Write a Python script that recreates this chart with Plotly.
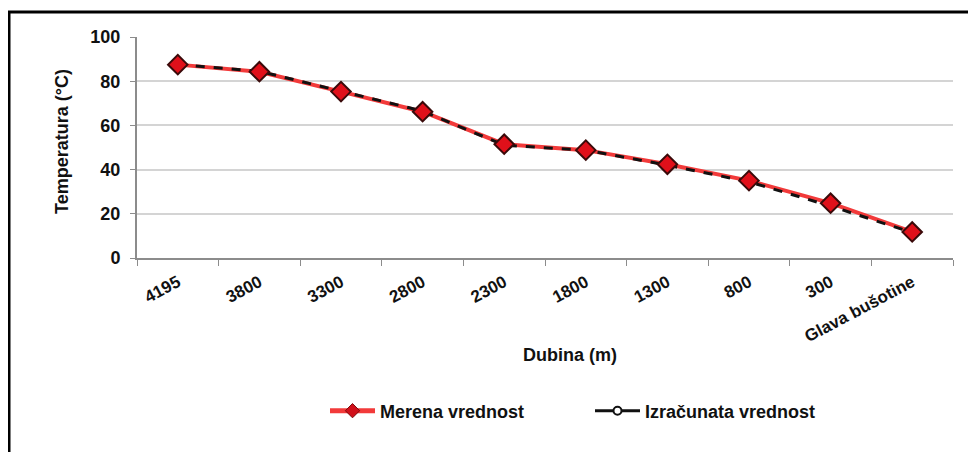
import plotly.graph_objects as go

categories = ["4195", "3800", "3300", "2800", "2300", "1800", "1300", "800", "300", "Glava bušotine"]
merena = [87.5, 84.3, 75.3, 66.2, 51.5, 48.8, 42.4, 35.0, 24.8, 11.8]
izracunata = [87.5, 84.5, 75.5, 66.5, 51.0, 48.8, 42.0, 34.5, 23.5, 11.5]
y_ticks = [0, 20, 40, 60, 80, 100]

# page has an 8px body margin: figure occupies window pixels 8..976 x 8..452
OFF = 8
W, H = 976 - OFF, 452 - OFF
# plot area in window pixels: x 137..953, y 37..258
L, T = 137 - OFF, 37 - OFF
pw, ph = 953 - 137, 258 - 37
R, B = W - L - pw, H - T - ph

def px(x):
    return (x - OFF - L) / pw

def py(y):
    return (T + ph - (y - OFF)) / ph

FONT = "Liberation Sans, Arial, sans-serif"
DIAMOND = dict(symbol="diamond", size=15, color="#e0101a", line=dict(color="#3a0a0a", width=2))

fig = go.Figure()
# data traces
fig.add_trace(go.Scatter(
    x=categories, y=merena, mode="lines", showlegend=False,
    line=dict(color="#f23a3a", width=4),
))
fig.add_trace(go.Scatter(
    x=categories, y=izracunata, mode="lines+markers", showlegend=False,
    line=dict(color="#111111", width=3, dash="dash"),
    marker=dict(symbol="circle", size=9, color="white", line=dict(color="#111111", width=2)),
))
fig.add_trace(go.Scatter(
    x=categories, y=merena, mode="markers", showlegend=False, marker=DIAMOND,
))
# legend entries
fig.add_trace(go.Scatter(
    x=[None], y=[None], mode="lines+markers", name="<b>Merena vrednost</b>",
    line=dict(color="#f23a3a", width=5),
    marker=dict(symbol="diamond", size=11, color="#d0101a", line=dict(color="#7a0a0a", width=1)),
))
fig.add_trace(go.Scatter(
    x=[None], y=[None], mode="lines+markers", name="<b>Izračunata vrednost</b>",
    line=dict(color="#111111", width=3),
    marker=dict(symbol="circle", size=8, color="white", line=dict(color="#111111", width=2)),
))

fig.update_layout(
    width=W, height=H,
    margin=dict(l=L, r=R, t=T, b=B, autoexpand=False),
    paper_bgcolor="white", plot_bgcolor="white",
    font=dict(family=FONT, color="#111111"),
    showlegend=True,
    legend=dict(orientation="h", x=px(325), y=py(411), xanchor="left", yanchor="middle",
                font=dict(size=18, family=FONT, color="#111111"), itemwidth=45,
                entrywidth=205, bgcolor="rgba(0,0,0,0)"),
    xaxis=dict(
        type="category", range=[-0.5, len(categories) - 0.5],
        showgrid=False, showline=True, linecolor="#8c8c8c", linewidth=2,
        ticks="outside", tickson="boundaries", ticklen=6, tickcolor="#8c8c8c", tickwidth=1,
        ticklabelstandoff=6,
        tickangle=-28, tickfont=dict(size=17, family=FONT, color="#111111", weight="bold"),
        fixedrange=True,
    ),
    yaxis=dict(
        range=[0, 100], tickvals=y_ticks, ticktext=[f"<b>{v}</b>" for v in y_ticks],
        showgrid=True, gridcolor="#d4d4d4", gridwidth=2,
        showline=True, linecolor="#8c8c8c", linewidth=2,
        ticks="outside", ticklen=5, tickcolor="#8c8c8c", ticklabelstandoff=6,
        tickfont=dict(size=18, family=FONT, color="#111111"),
        zeroline=False, fixedrange=True,
    ),
    annotations=[
        dict(text="<b>Dubina (m)</b>", x=px(570), y=py(355), xref="paper", yref="paper",
             showarrow=False, font=dict(size=18, family=FONT, color="#111111"),
             xanchor="center", yanchor="middle"),
        dict(text="<b>Temperatura (°C)</b>", x=px(62), y=py(142), xref="paper", yref="paper",
             showarrow=False, textangle=-90, font=dict(size=18, family=FONT, color="#111111"),
             xanchor="center", yanchor="middle"),
    ],
    shapes=[
        dict(type="line", xref="paper", yref="paper", x0=px(9), x1=px(9), y0=py(460), y1=py(12),
             line=dict(color="black", width=3)),
        dict(type="line", xref="paper", yref="paper", x0=px(8), x1=px(990), y0=py(12), y1=py(12),
             line=dict(color="black", width=3)),
    ],
)

fig.write_html("out.html")
